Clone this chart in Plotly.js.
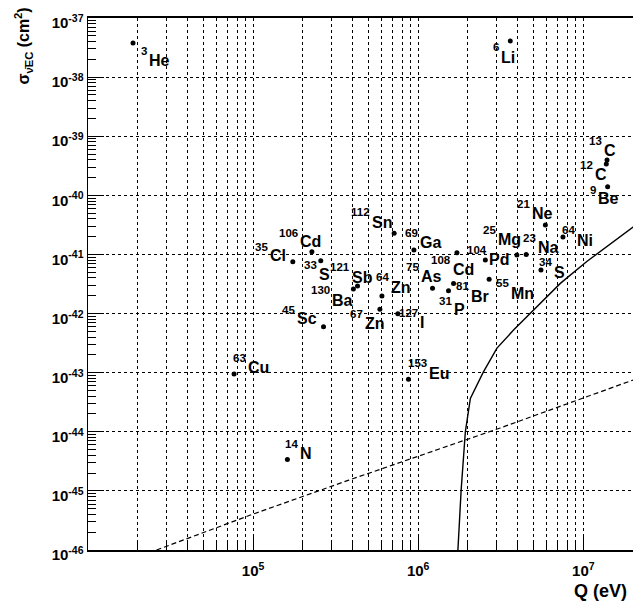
<!DOCTYPE html>
<html>
<head>
<meta charset="utf-8">
<script src="https://cdn.plot.ly/plotly-3.0.1.min.js"></script>
<style>html,body{margin:0;padding:0;background:#fff;}#chart{width:633px;height:607px;}</style>
</head>
<body>
<div id="chart"></div>
<script>
// ---- data ----
const isotopes = ['He','Li','C','C','Be','Ne','Ni','Mg','Na','Pd','Cd','S','Mn','Br','P','As','Ga','Sn','Cl','Cd','S','Sb','Ba','Zn','Zn','I','Sc','Cu','Eu','N'];
const massNumbers = ['3','6','13','12','9','21','64','25','23','104','108','34','55','81','31','75','69','112','35','106','33','121','130','64','67','127','45','63','153','14'];
const qValues = [1.874e4,3.61e6,1.392e7,1.378e7,1.404e7,5.89e6,7.53e6,3.96e6,4.51e6,2.55e6,1.716e6,5.54e6,2.69e6,1.637e6,1.526e6,1.221e6,9.42e5,7.15e5,1.74e5,2.27e5,2.57e5,4.29e5,4.05e5,6.03e5,5.86e5,7.53e5,2.67e5,7.67e4,8.73e5,1.614e5];
const sigmaValues = [3.78e-38,4.08e-38,3.95e-40,3.39e-40,1.40e-40,3.14e-41,1.97e-41,9.77e-42,1.00e-41,8.04e-42,1.07e-41,5.45e-42,3.79e-42,3.24e-42,2.43e-42,2.67e-42,1.19e-41,2.28e-41,7.53e-42,1.11e-41,7.82e-42,2.92e-42,2.60e-42,1.98e-42,1.18e-42,9.93e-43,5.98e-43,9.46e-44,7.71e-44,3.41e-45];

const dashedQ = [2.6e4, 1.0e5, 3.8e5, 3.14e6, 2.0e7];
const dashedSigma = [1.0e-46, 4.05e-46, 1.52e-45, 1.16e-44, 7.5e-44];

const solidQ = [1.74e6, 1.82e6, 1.93e6, 2.07e6, 2.47e6, 3.0e6, 3.78e6, 4.78e6, 7.26e6, 1.05e7, 2.02e7];
const solidSigma = [1e-46, 1.03e-45, 1.0e-44, 3.67e-44, 1.0e-43, 2.6e-43, 5.25e-43, 1.0e-42, 3.24e-42, 7.6e-42, 2.95e-41];

const yTickVals = [1e-46,1e-45,1e-44,1e-43,1e-42,1e-41,1e-40,1e-39,1e-38,1e-37];
const yTickText = ['-46','-45','-44','-43','-42','-41','-40','-39','-38','-37'].map(e => '10<sup>' + e + '</sup>');
const xTickVals = [1e4,1e5,1e6,1e7];
const xTickText = [' ', '10<sup>5</sup>', '10<sup>6</sup>', '10<sup>7</sup>'];

// ---- label placement (pixel offsets of element symbol from its dot) ----
const labelOffsets = [[16.3,17.8],[-9,15.7],[-2.7,-9.7],[-11.3,11],[-10,12.5],[-13.3,-11.7],[14,2.7],[-19.4,-15.7],[12.3,-6.8],[4.3,-0.8],[-4,16.6],[13.3,1.7],[21.7,14],[17.4,13],[5,19.3],[-11.6,-11.6],[6.3,-7],[-21.7,-11.1],[-22.7,-5.9],[-12.4,-9.5],[-2.4,13.8],[-6.3,-9.3],[-20.6,10.7],[9,-9],[-15.4,14.4],[22.3,8.8],[-27.3,-7.9],[14.3,-6.7],[20.7,-6.3],[13.4,-5.6]];

function minorVals(lo, hi) {
  const v = [];
  for (let e = lo; e < hi; e++) for (let m = 2; m <= 9; m++) v.push(m * Math.pow(10, e));
  return v;
}

const FONT = 'Liberation Sans, Arial, Helvetica, sans-serif';

const traces = [
  {x: dashedQ, y: dashedSigma, mode: 'lines', type: 'scatter',
   line: {color: 'black', width: 1.2, dash: '5px,3px'}, hoverinfo: 'skip'},
  {x: solidQ, y: solidSigma, mode: 'lines', type: 'scatter',
   line: {color: 'black', width: 1.4}, hoverinfo: 'skip'},
  {x: qValues, y: sigmaValues, mode: 'markers', type: 'scatter',
   marker: {color: 'black', size: 5}, hoverinfo: 'skip'}
];

const annotations = [];
isotopes.forEach((sym, i) => {
  const lx = Math.log10(qValues[i]), ly = Math.log10(sigmaValues[i]);
  const [dx, dy] = labelOffsets[i];
  annotations.push({x: lx, y: ly, xref: 'x', yref: 'y', text: sym, showarrow: false,
    xanchor: 'left', yanchor: 'middle', xshift: Math.round(dx - 2), yshift: Math.round(-dy),
    font: {family: FONT, size: 16, color: '#000000', weight: 'bold'}});
  annotations.push({x: lx, y: ly, xref: 'x', yref: 'y', text: massNumbers[i], showarrow: false,
    xanchor: 'right', yanchor: 'middle', xshift: Math.round(dx), yshift: Math.round(-(dy - 9.5)),
    font: {family: FONT, size: 11.5, color: '#000000', weight: 'bold'}});
});
annotations.push({x: 1, y: 0, xref: 'paper', yref: 'paper', text: 'Q (eV)', showarrow: false,
  xanchor: 'right', yanchor: 'middle', xshift: -4, yshift: -41,
  font: {family: FONT, size: 18, color: '#000000', weight: 'bold'}});
annotations.push({x: 0, y: 1, xref: 'paper', yref: 'paper',
  text: 'σ<sub>ν̄EC</sub> (cm<sup>2</sup>)', showarrow: false, textangle: -90,
  xanchor: 'center', yanchor: 'top', xshift: -65, yshift: 12,
  font: {family: FONT, size: 16, color: '#000000', weight: 'bold'}});

const layout = {
  width: 633, height: 607,
  margin: {l: 88, r: 0, t: 18, b: 57},
  paper_bgcolor: 'white', plot_bgcolor: 'white',
  showlegend: false,
  font: {family: FONT, color: '#000000'},
  xaxis: {
    type: 'log', range: [4, Math.log10(2e7)],
    tickmode: 'array', tickvals: xTickVals, ticktext: xTickText,
    ticks: 'inside', ticklen: 16, tickwidth: 1, tickcolor: 'black',
    showline: true, linecolor: 'black', linewidth: 2, mirror: true,
    showgrid: true, gridcolor: 'black', gridwidth: 1, griddash: 'dot',
    zeroline: false, ticklabelstandoff: 6,
    tickfont: {family: FONT, size: 15, color: '#000000', weight: 'bold'},
    minor: {tickmode: 'array', tickvals: minorVals(4, 8), ticks: 'inside', ticklen: 8,
            tickwidth: 1, tickcolor: 'black', showgrid: true, gridcolor: 'black',
            gridwidth: 1, griddash: 'dot'}
  },
  yaxis: {
    type: 'log', range: [-46, -37],
    tickmode: 'array', tickvals: yTickVals, ticktext: yTickText,
    ticks: 'inside', ticklen: 16, tickwidth: 1, tickcolor: 'black',
    showline: true, linecolor: 'black', linewidth: 1.5, mirror: false,
    showgrid: true, gridcolor: 'black', gridwidth: 1, griddash: 'dot',
    zeroline: false, ticklabelshift: 5,
    tickfont: {family: FONT, size: 15, color: '#000000', weight: 'bold'},
    minor: {tickmode: 'array', tickvals: minorVals(-46, -37), ticks: 'inside', ticklen: 8,
            tickwidth: 1, tickcolor: 'black', showgrid: false}
  },
  annotations: annotations
};

Plotly.newPlot('chart', traces, layout, {staticPlot: true, displayModeBar: false});
</script>
</body>
</html>
